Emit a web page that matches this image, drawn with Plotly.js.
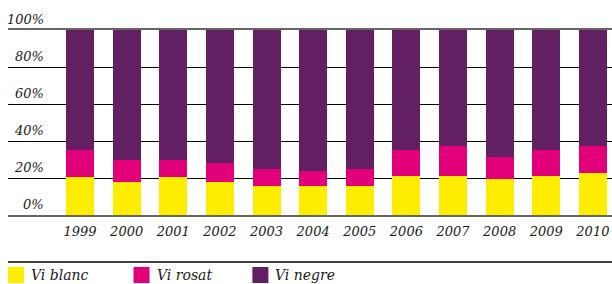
<!DOCTYPE html>
<html><head><meta charset="utf-8">
<script src="https://cdn.plot.ly/plotly-3.0.1.min.js"></script>
<style>html,body{margin:0;padding:0;background:#fff}#chart{width:612px;height:284px}</style>
</head><body><div id="chart"></div>
<script>
const years = ['1999','2000','2001','2002','2003','2004','2005','2006','2007','2008','2009','2010'];
const viBlanc = [20.5, 17.8, 20.5, 17.8, 15.7, 15.7, 15.7, 21.1, 21.1, 19.5, 21.1, 22.7];
const viRosat = [14.5, 11.9, 9.2, 10.2, 9.2, 8.1, 9.2, 14.0, 16.2, 11.9, 14.0, 14.6];
const viNegre = [65.0, 70.3, 70.3, 72.0, 75.1, 76.2, 75.1, 64.9, 62.7, 68.6, 64.9, 62.7];
const seriesNames = ['Vi blanc', 'Vi rosat', 'Vi negre'];
const seriesColors = ['#FFED00', '#E2007A', '#622063'];
const yTicks = [0, 20, 40, 60, 80, 100];
const yTickText = ['0%', '20%', '40%', '60%', '80%', '100%'];

const font = {family: 'DejaVu Serif', size: 13, color: '#1a1a1a'};
const legFont = {family: 'DejaVu Serif', size: 14, color: '#1a1a1a'};
const seriesValues = [viBlanc, viRosat, viNegre];
const traces = seriesValues.map((v, i) => ({
  type: 'bar', x: years, y: v, name: seriesNames[i],
  marker: {color: seriesColors[i], line: {width: 0}},
  hoverinfo: 'skip'
}));

const annotations = yTicks.map((t, i) => ({
  xref: 'paper', yref: 'y', x: 0.0621, y: t, xanchor: 'right', yanchor: 'bottom',
  yshift: 1, showarrow: false, text: '<i>' + yTickText[i] + '</i>', font: font
}));
const shapes = [{type: 'line', xref: 'paper', yref: 'paper', x0: 0, x1: 1, y0: -0.254, y1: -0.254,
  line: {color: '#000', width: 1.5}}];
const legX = [0, 0.2078, 0.4046];
seriesNames.forEach((n, i) => {
  shapes.push({type: 'rect', xref: 'paper', yref: 'paper', x0: legX[i], x1: legX[i] + 16/604,
    y0: -0.2811, y1: -0.3676, fillcolor: seriesColors[i], line: {width: 0}});
  annotations.push({xref: 'paper', yref: 'paper', x: legX[i] + 21/604, y: -0.3243,
    xanchor: 'left', yanchor: 'middle', showarrow: false, text: '<i>' + n + '</i>', font: legFont});
});

const layout = {
  width: 612, height: 284,
  margin: {l: 8, r: 0, t: 30, b: 69},
  paper_bgcolor: '#fff', plot_bgcolor: '#fff',
  barmode: 'stack', bargap: 0.4,
  showlegend: false,
  font: font,
  xaxis: {type: 'category', range: [-1.545, 11.41], showgrid: false, zeroline: false,
    showline: true, mirror: true, linecolor: '#666', linewidth: 2,
    ticks: '', tickfont: {family: 'DejaVu Serif', size: 13, color: '#1a1a1a'},
    ticklabelstandoff: 3, tickprefix: '<i>', ticksuffix: '</i>', fixedrange: true},
  yaxis: {range: [0, 100], tickvals: yTicks, showticklabels: false, showgrid: true,
    gridcolor: '#000', gridwidth: 1, zeroline: false, showline: false, ticks: '', fixedrange: true},
  annotations: annotations,
  shapes: shapes
};
Plotly.newPlot('chart', traces, layout, {displayModeBar: false, staticPlot: true});
</script></body></html>
